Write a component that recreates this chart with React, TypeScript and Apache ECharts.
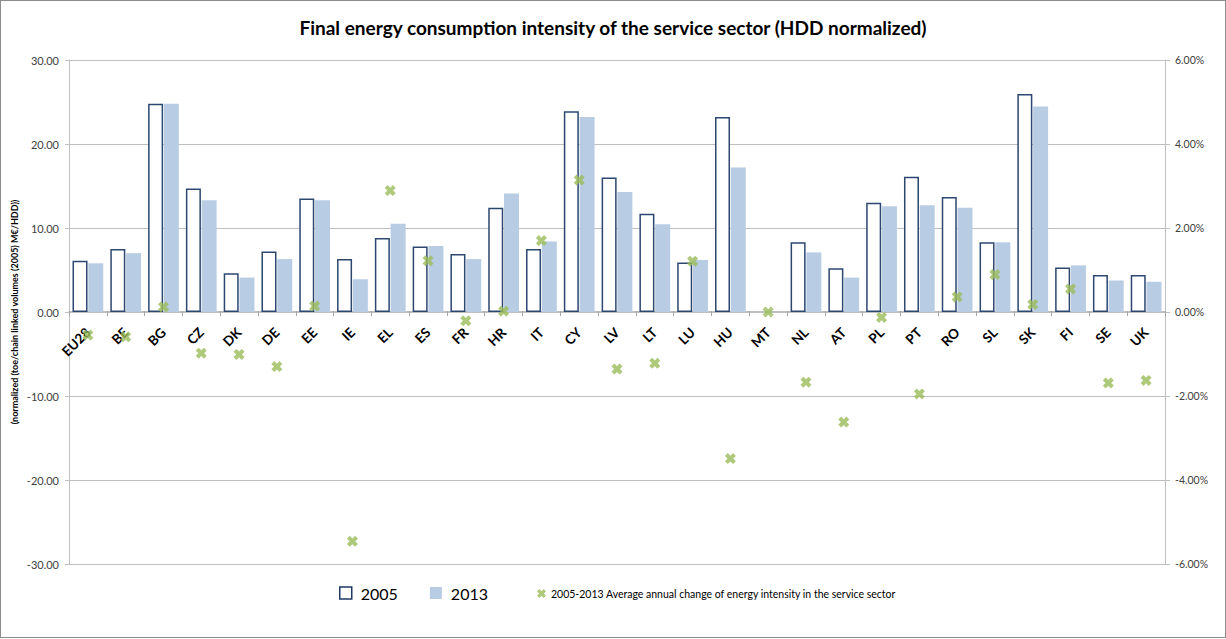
import React, { useEffect, useRef } from "react";
import * as echarts from "echarts";

const categories = ["EU28","BE","BG","CZ","DK","DE","EE","IE","EL","ES","FR","HR","IT","CY","LV","LT","LU","HU","MT","NL","AT","PL","PT","RO","SL","SK","FI","SE","UK"];
const values2005 = [6.1,7.5,24.8,14.7,4.6,7.2,13.5,6.3,8.8,7.8,6.9,12.4,7.5,23.9,16.0,11.7,5.9,23.2,null,8.3,5.2,13.0,16.1,13.7,8.3,25.95,5.3,4.4,4.4];
const values2013 = [5.8,7.0,24.8,13.3,4.1,6.3,13.3,3.9,10.5,7.85,6.3,14.1,8.4,23.2,14.3,10.45,6.2,17.2,null,7.1,4.1,12.6,12.7,12.4,8.3,24.45,5.55,3.75,3.6];
const avgChange = [-0.55,-0.59,0.12,-0.98,-1.01,-1.3,0.14,-5.46,2.89,1.22,-0.21,0.02,1.7,3.14,-1.36,-1.22,1.21,-3.49,0.0,-1.67,-2.62,-0.13,-1.95,0.36,0.89,0.18,0.55,-1.69,-1.63];
const leftTicks = { min: -30, max: 30, interval: 10 };
const rightTicks = { min: -6, max: 6, interval: 2 };

const FONT = "Lato, 'Open Sans', sans-serif";
const XMARK = "path://M0,2.6 L2.6,0 L5,2.4 L7.4,0 L10,2.6 L7.6,5 L10,7.4 L7.4,10 L5,7.6 L2.6,10 L0,7.4 L2.4,5 Z";

const GRID_TOP = 59;
const GRID_BOTTOM = 73;
const CHART_H = 638;

export default function App() {
  const ref = useRef<HTMLDivElement>(null);
  useEffect(() => {
    document.body.style.margin = "0";
    const chart = echarts.init(ref.current!, null, { renderer: "svg" });
    const gridH = CHART_H - GRID_TOP - GRID_BOTTOM;
    const zeroFromBottom = (gridH * (0 - leftTicks.min)) / (leftTicks.max - leftTicks.min);
    chart.setOption({
      animation: false,
      backgroundColor: "#ffffff",
      textStyle: { fontFamily: FONT },
      title: {
        text: "Final energy consumption intensity of the service sector (HDD normalized)",
        left: "center",
        top: 12,
        textStyle: { fontFamily: FONT, fontSize: 19, fontWeight: "bold", color: "#000" },
      },
      legend: [
        {
          left: 338,
          top: 584,
          padding: 0,
          itemGap: 32,
          itemWidth: 12,
          itemHeight: 12,
          textStyle: { fontFamily: FONT, fontSize: 16, color: "#000", padding: [0, 0, 0, 4] },
          data: [
            { name: "2005", icon: "rect", itemStyle: { color: "#ffffff", borderColor: "#1f3864", borderWidth: 1.5 } },
            { name: "2013", icon: "rect", itemStyle: { color: "#b8cce4" } },
          ],
        },
        {
          left: 536,
          top: 587,
          padding: 0,
          itemWidth: 9,
          itemHeight: 9,
          textStyle: { fontFamily: FONT, fontSize: 10.5, color: "#000" },
          data: [{ name: "2005-2013 Average annual change of energy intensity in the service sector", icon: XMARK }],
        },
      ],
      grid: { left: 68, right: 60, top: GRID_TOP, bottom: GRID_BOTTOM, containLabel: false, outerBoundsMode: "none" },
      xAxis: {
        type: "category",
        data: categories,
        position: "bottom",
        offset: -zeroFromBottom,
        axisLine: { onZero: false, lineStyle: { color: "#bfbfbf" } },
        axisTick: { show: true, length: 5, lineStyle: { color: "#a6a6a6" } },
        axisLabel: { rotate: 45, fontSize: 13.5, fontWeight: "bold", color: "#000", fontFamily: FONT, margin: 19, interval: 0 },
      },
      yAxis: [
        {
          type: "value",
          ...leftTicks,
          name: "(normalized (toe/chain linked volumes (2005) M€/HDD))",
          nameLocation: "middle",
          nameGap: 50,
          nameRotate: 90,
          nameMoveOverlap: false,
          nameTextStyle: { fontFamily: FONT, fontSize: 9, fontWeight: "bold", color: "#000" },
          axisLine: { show: true, onZero: false, lineStyle: { color: "#bfbfbf" } },
          axisTick: { show: true, length: 4, lineStyle: { color: "#bfbfbf" } },
          axisLabel: { formatter: (v: number) => v.toFixed(2), fontSize: 11, color: "#404040", margin: 10 },
          splitLine: { show: true, lineStyle: { color: "#bfbfbf" } },
        },
        {
          type: "value",
          ...rightTicks,
          position: "right",
          axisLine: { show: true, onZero: false, lineStyle: { color: "#bfbfbf" } },
          axisTick: { show: true, length: 5, lineStyle: { color: "#bfbfbf" } },
          axisLabel: { formatter: (v: number) => v.toFixed(2) + "%", fontSize: 10.5, color: "#404040", margin: 10 },
          splitLine: { show: false },
        },
      ],
      series: [
        {
          name: "2005",
          type: "bar",
          data: values2005,
          barWidth: 15,
          barGap: "5%",
          itemStyle: { color: "#ffffff", borderColor: "#2c4770", borderWidth: 1.5 },
        },
        {
          name: "2013",
          type: "bar",
          data: values2013,
          barWidth: 15,
          barGap: "5%",
          itemStyle: { color: "#b8cce4" },
        },
        {
          name: "2005-2013 Average annual change of energy intensity in the service sector",
          type: "scatter",
          yAxisIndex: 1,
          data: avgChange,
          symbol: XMARK,
          symbolSize: 11,
          itemStyle: { color: "#9bbb59" },
          z: 5,
        },
      ],
    });
    return () => chart.dispose();
  }, []);
  return (
    <div
      ref={ref}
      style={{ width: 1226, height: CHART_H, boxSizing: "border-box", border: "1px solid #8c8c8c" }}
    />
  );
}
